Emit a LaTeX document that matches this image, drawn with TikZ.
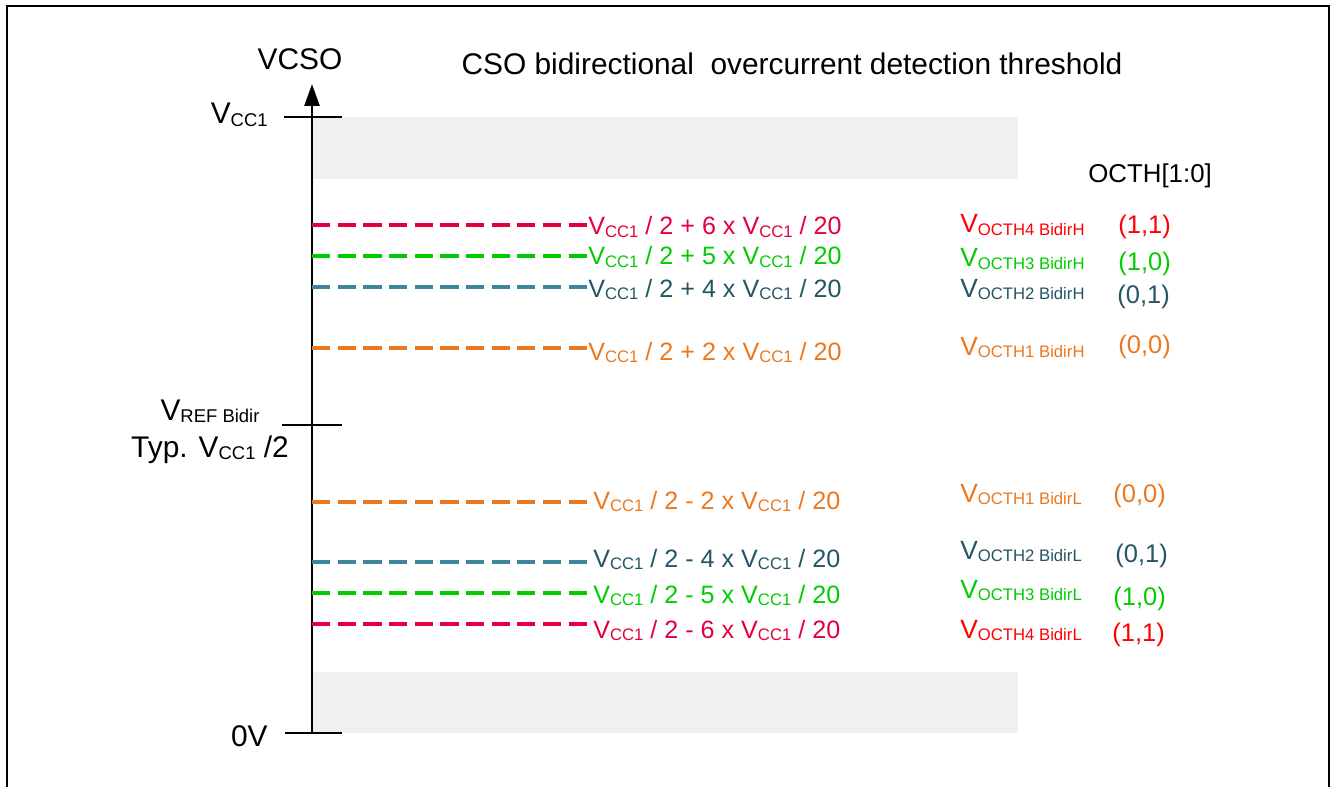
\documentclass[tikz,border=0pt]{standalone}
\usepackage{fontspec}
\setmainfont{Liberation Sans}
\usetikzlibrary{arrows.meta}

\definecolor{thrred}{RGB}{228,0,60}
\definecolor{codered}{RGB}{255,0,0}
\definecolor{thrgreen}{RGB}{0,204,0}
\definecolor{thrteal}{RGB}{60,135,155}
\definecolor{tealtext}{RGB}{35,85,100}
\definecolor{throrange}{RGB}{235,120,30}
\definecolor{bandgray}{RGB}{240,240,240}

\newcommand{\lowsub}[2][9.5]{\raisebox{-1.5pt}{\fontsize{#1}{#1}\selectfont #2}}
\newcommand{\Vcc}[1][9.5]{V\lowsub[#1]{CC1}}

\begin{document}
\begin{tikzpicture}[x=0.02cm, y=-0.02cm,
    big/.style={inner sep=0pt, font=\fontsize{17}{20}\selectfont},
    thr/.style={inner sep=0pt, anchor=base west, font=\fontsize{14.3}{17}\selectfont},
    thrlow/.style={thr, inner xsep=3.4pt},
    vname/.style={inner sep=0pt, anchor=base west, font=\fontsize{15}{18}\selectfont},
    code/.style={inner sep=0pt, anchor=base west, font=\fontsize{14.5}{17}\selectfont},
    dashline/.style={line width=2.1pt, dash pattern=on 10.4pt off 4.2pt},
    tick/.style={line width=1.5pt}]
  \useasboundingbox (0,0) rectangle (1332,787);
  % frame
  \draw[line width=1.2pt] (7,787) -- (7,6) -- (1329,6) -- (1329,787);
  % bands near the rails
  \fill[bandgray] (312,117) rectangle (1018,179);
  \fill[bandgray] (312,672) rectangle (1018,733);
  % axis
  \coordinate (bot) at (312,733);
  \coordinate (top) at (312,84);
  \draw[line width=1.5pt, -{Triangle[length=0.44cm, width=0.3cm]}] (bot) -- (top);
  \node[big, anchor=base] (vcso) at (300,70) {VCSO};
  \node[big, anchor=base] (title) at (792,75) {CSO bidirectional\ \ overcurrent detection threshold};
  \foreach \y/\xl in {117/284, 425/282, 733/285} {
    \draw[tick] (\xl,\y) -- (342,\y);
  }
  \node[big, anchor=base east] (vcc) at (268,124) {\Vcc[10.5]};
  \node[big, anchor=base] (vref) at (210,420) {V\lowsub[10.5]{REF Bidir}};
  \node[big, anchor=base] (typ) at (210,457) {Typ. \Vcc[10.5]{} /2};
  \node[big, anchor=base east] (zero) at (268,746) {0V};
  \node[code, font=\fontsize{14.7}{17}\selectfont] (octh) at (1088,183) {OCTH[1:0]};

  % upper thresholds
  \coordinate (a4h) at (312,225);
  \coordinate (a3h) at (312,256);
  \coordinate (a2h) at (312,287);
  \coordinate (a1h) at (312,348);
  \node[thr, text=thrred] (l4h) at (588,235) {\Vcc{} / 2 + 6 x \Vcc{} / 20};
  \node[thr, text=thrgreen] (l3h) at (588,265) {\Vcc{} / 2 + 5 x \Vcc{} / 20};
  \node[thr, text=tealtext] (l2h) at (588,297) {\Vcc{} / 2 + 4 x \Vcc{} / 20};
  \node[thr, text=throrange] (l1h) at (588,360) {\Vcc{} / 2 + 2 x \Vcc{} / 20};
  \draw[dashline, thrred] (a4h) -- (a4h -| l4h.west);
  \draw[dashline, thrgreen] (a3h) -- (a3h -| l3h.west);
  \draw[dashline, thrteal] (a2h) -- (a2h -| l2h.west);
  \draw[dashline, throrange] (a1h) -- (a1h -| l1h.west);

  % lower thresholds
  \coordinate (a1l) at (312,502);
  \coordinate (a2l) at (312,562);
  \coordinate (a3l) at (312,593);
  \coordinate (a4l) at (312,624);
  \node[thrlow, text=throrange] (l1l) at (587,509) {\Vcc{} / 2 - 2 x \Vcc{} / 20};
  \node[thrlow, text=tealtext] (l2l) at (587,567) {\Vcc{} / 2 - 4 x \Vcc{} / 20};
  \node[thrlow, text=thrgreen] (l3l) at (587,603) {\Vcc{} / 2 - 5 x \Vcc{} / 20};
  \node[thrlow, text=thrred] (l4l) at (587,638) {\Vcc{} / 2 - 6 x \Vcc{} / 20};
  \draw[dashline, throrange] (a1l) -- (a1l -| l1l.west);
  \draw[dashline, thrteal] (a2l) -- (a2l -| l2l.west);
  \draw[dashline, thrgreen] (a3l) -- (a3l -| l3l.west);
  \draw[dashline, thrred] (a4l) -- (a4l -| l4l.west);

  % threshold names and OCTH codes
  \node[vname, text=codered] (v4h) at (960,233) {V\lowsub{OCTH4 BidirH}};
  \node[vname, text=thrgreen] (v3h) at (960,267) {V\lowsub{OCTH3 BidirH}};
  \node[vname, text=tealtext] (v2h) at (960,297) {V\lowsub{OCTH2 BidirH}};
  \node[vname, text=throrange] (v1h) at (960,355) {V\lowsub{OCTH1 BidirH}};
  \node[vname, text=throrange] (v1l) at (960,502) {V\lowsub{OCTH1 BidirL}};
  \node[vname, text=tealtext] (v2l) at (960,559) {V\lowsub{OCTH2 BidirL}};
  \node[vname, text=thrgreen] (v3l) at (960,598) {V\lowsub{OCTH3 BidirL}};
  \node[vname, text=codered] (v4l) at (960,638) {V\lowsub{OCTH4 BidirL}};
  \node[code, text=codered] (c4h) at (1118,234) {(1,1)};
  \node[code, text=thrgreen] (c3h) at (1118,271) {(1,0)};
  \node[code, text=tealtext] (c2h) at (1117,303) {(0,1)};
  \node[code, text=throrange] (c1h) at (1118,353) {(0,0)};
  \node[code, text=throrange] (c1l) at (1113,502) {(0,0)};
  \node[code, text=tealtext] (c2l) at (1115,562) {(0,1)};
  \node[code, text=thrgreen] (c3l) at (1113,605) {(1,0)};
  \node[code, text=codered] (c4l) at (1112,641) {(1,1)};
\end{tikzpicture}
\end{document}
